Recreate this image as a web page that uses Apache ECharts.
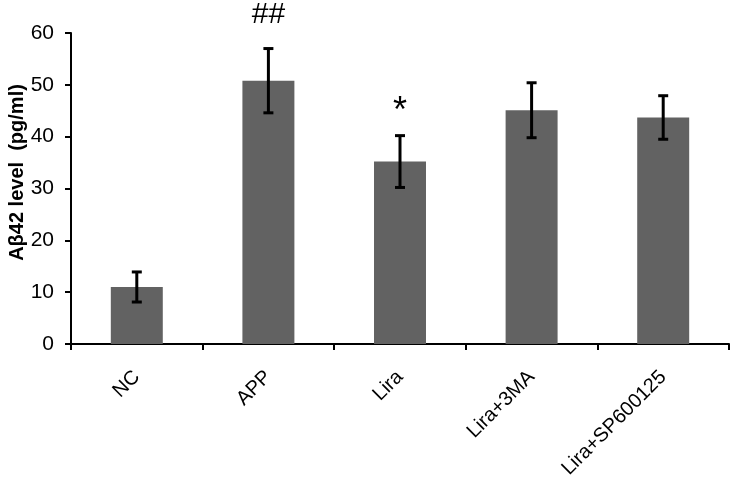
<!DOCTYPE html>
<html><head><meta charset="utf-8">
<script src="https://cdn.jsdelivr.net/npm/echarts@6/dist/echarts.min.js"></script>
<style>html,body{margin:0;padding:0;background:#fff}#c{width:735px;height:486px}</style>
</head><body><div id="c"></div>
<script>
const categories = ['NC', 'APP', 'Lira', 'Lira+3MA', 'Lira+SP600125'];
const means = [11.0, 50.8, 35.2, 45.1, 43.7];
const errors = [2.9, 6.2, 5.0, 5.3, 4.2];
const marks = ['', '##', '*', '', ''];
const yTicks = [0, 10, 20, 30, 40, 50, 60];

const chart = echarts.init(document.getElementById('c'));
const font = "'Liberation Sans', Arial, sans-serif";
chart.setOption({
  animation: false,
  grid: { left: 71, top: 33, right: 6, bottom: 142, containLabel: false, outerBoundsMode: 'none' },
  xAxis: {
    type: 'category', data: categories,
    axisLine: { lineStyle: { color: '#000', width: 2 } },
    axisTick: { show: true, length: 6, lineStyle: { color: '#000', width: 2 } },
    axisLabel: { rotate: 45, margin: 30, color: '#000', fontSize: 20, fontFamily: font, hideOverlap: false }
  },
  yAxis: {
    type: 'value', min: yTicks[0], max: yTicks[yTicks.length - 1], interval: 10,
    name: 'Aβ42 level  (pg/ml)', nameLocation: 'middle', nameGap: 44, nameMoveOverlap: false,
    nameTextStyle: { color: '#000', fontSize: 20, fontWeight: 'bold', fontFamily: font, padding: [0, 0, 0, 32] },
    axisLine: { show: true, lineStyle: { color: '#000', width: 2 } },
    axisTick: { show: true, length: 6, lineStyle: { color: '#000', width: 2 } },
    axisLabel: { color: '#000', fontSize: 21, fontFamily: font, margin: 17 },
    splitLine: { show: false }
  },
  series: [
    {
      type: 'bar', data: means, barWidth: '39.5%',
      itemStyle: { color: '#626262' }
    },
    {
      type: 'custom',
      data: means.map((m, i) => [i, m - errors[i], m + errors[i]]),
      renderItem: function (params, api) {
        const x = api.value(0);
        const lo = api.coord([x, api.value(1)]);
        const hi = api.coord([x, api.value(2)]);
        const hw = 5;
        const style = { stroke: '#000', lineWidth: 3 };
        const children = [
          { type: 'line', shape: { x1: hi[0], y1: hi[1], x2: lo[0], y2: lo[1] }, style },
          { type: 'line', shape: { x1: hi[0] - hw, y1: hi[1], x2: hi[0] + hw, y2: hi[1] }, style },
          { type: 'line', shape: { x1: lo[0] - hw, y1: lo[1], x2: lo[0] + hw, y2: lo[1] }, style }
        ];
        const mk = marks[params.dataIndex];
        if (mk) {
          const star = mk === '*';
          children.push({
            type: 'text',
            style: {
              text: mk, x: hi[0], y: hi[1] - (star ? 24 : 34),
              align: 'center', verticalAlign: 'middle',
              fill: '#000', fontSize: star ? 36 : 30, fontFamily: font
            }
          });
        }
        return { type: 'group', children };
      },
      z: 5
    }
  ]
});
</script></body></html>
